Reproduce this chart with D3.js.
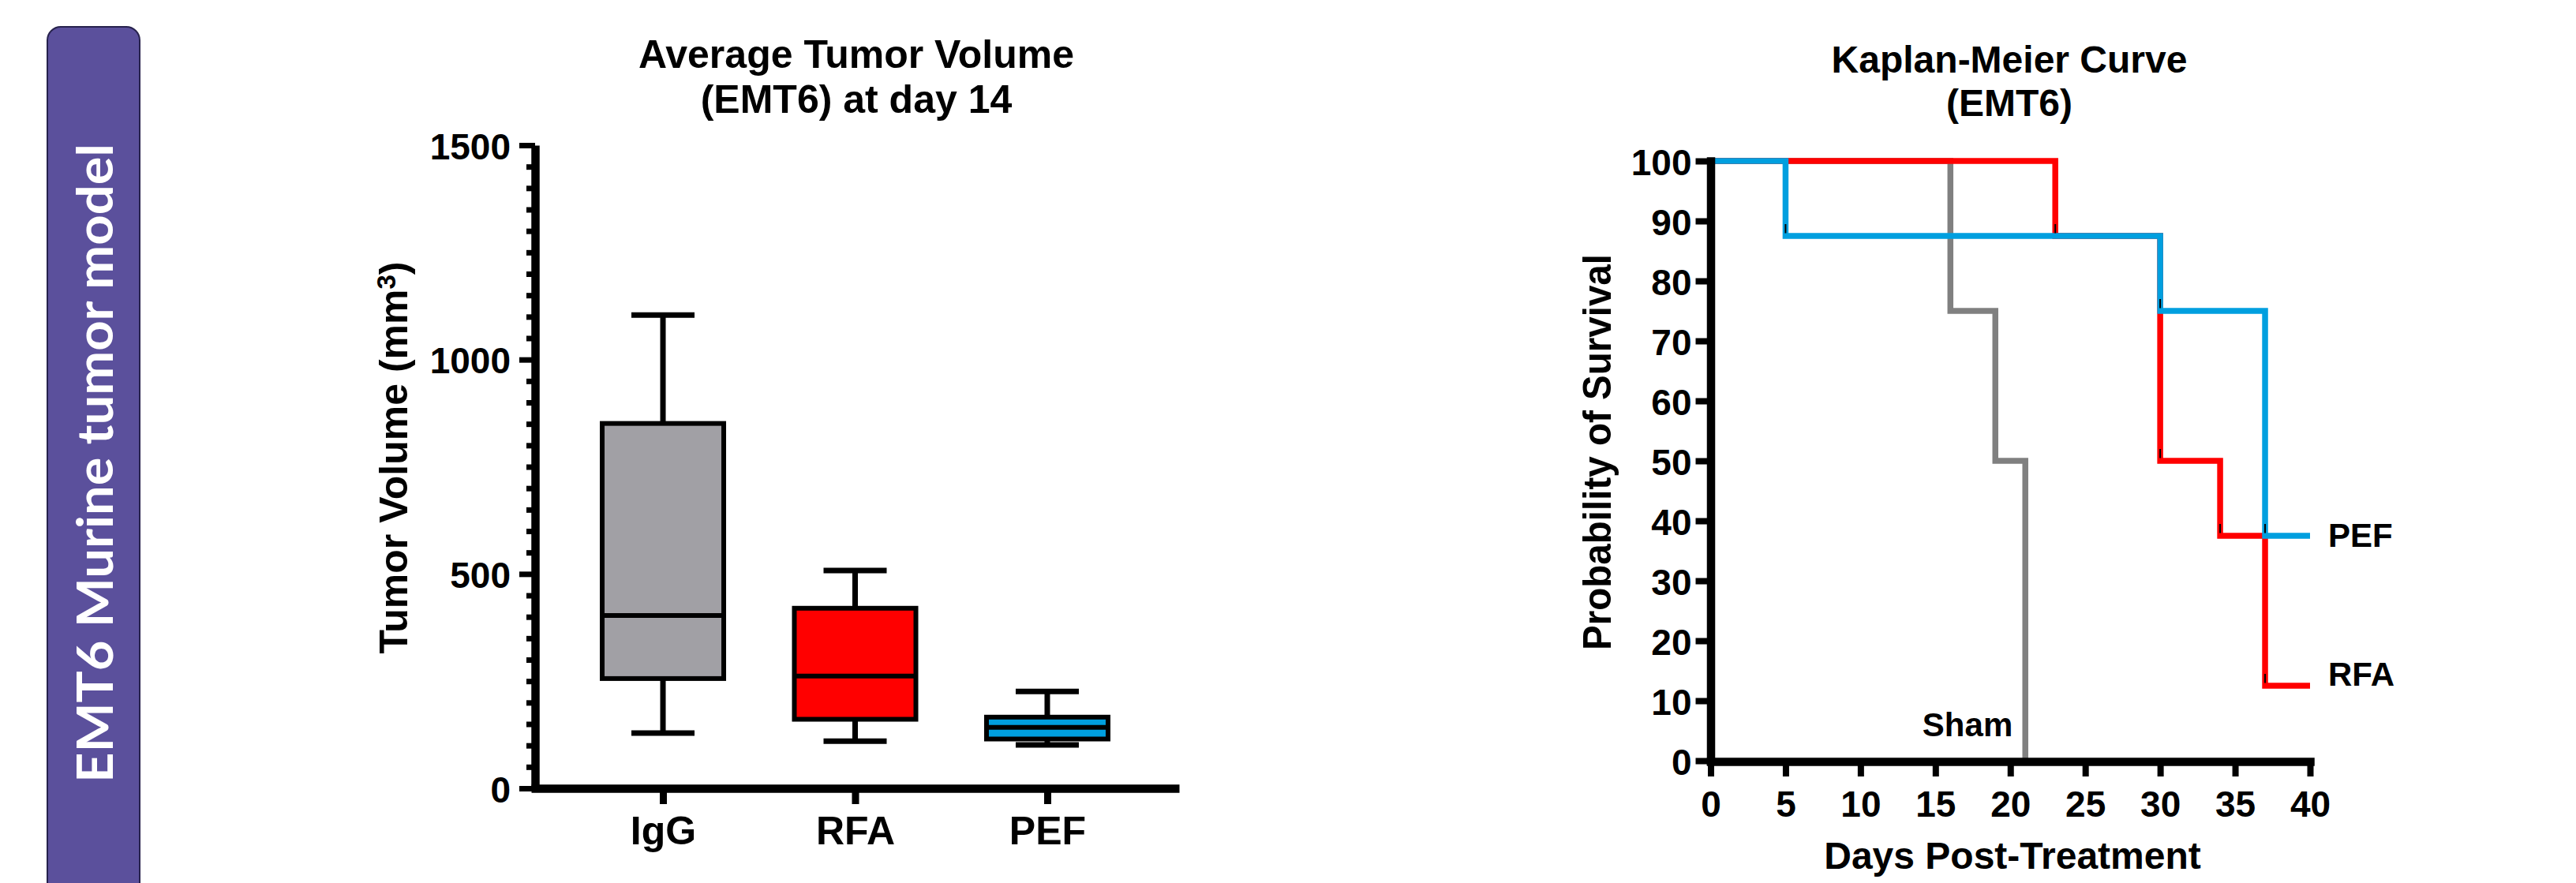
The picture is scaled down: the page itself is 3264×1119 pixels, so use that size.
<!DOCTYPE html>
<html>
<head>
<meta charset="utf-8">
<script src="https://cdn.jsdelivr.net/npm/d3@7"></script>
<style>
  body { margin: 0; background: #fff; }
  svg { display: block; }
  text { font-family: "Liberation Sans", Arial, sans-serif; font-weight: bold; fill: #000; }
</style>
</head>
<body>
<svg id="chart" width="3264" height="1119"></svg>
<script>
// box plot data (tumor volume, mm3, day 14)
const groups = ["IgG", "RFA", "PEF"];
const whiskerLow = [129, 110, 101];
const q1 = [256, 161, 115];
const median = [403, 262, 142];
const q3 = [851, 420, 166];
const whiskerHigh = [1104, 508, 226];
const volumeTicks = [0, 500, 1000, 1500];

// kaplan-meier data
const shamDays = [0, 16, 19, 21];
const shamSurv = [100, 75, 50, 0];
const rfaDays = [0, 23, 30, 34, 37, 40];
const rfaSurv = [100, 87.5, 50, 37.5, 12.5, 12.5];
const pefDays = [0, 5, 30, 37, 40];
const pefSurv = [100, 87.5, 75, 37.5, 37.5];
// step marks (day, survival)
const markDays = [5, 23, 30, 30, 34, 37, 37];
const markSurv = [87.5, 87.5, 75, 50, 37.5, 37.5, 12.5];
const dayTicks = d3.range(0, 41, 5);
const survTicks = d3.range(0, 101, 10);

const BOX_COLORS = { IgG: "#a1a0a5", RFA: "#ff0000", PEF: "#009fdf" };

const svg = d3.select("#chart");

// ---- side panel ----
svg.append("rect")
  .attr("x", 60).attr("y", 34)
  .attr("width", 117).attr("height", 1200)
  .attr("rx", 17)
  .attr("fill", "#5b509c")
  .attr("stroke", "#27224d")
  .attr("stroke-width", 2);

svg.append("text")
  .attr("transform", "translate(143,587) rotate(-90)")
  .attr("text-anchor", "middle")
  .style("font-family", "Lato, 'Open Sans', sans-serif")
  .style("font-size", "64px")
  .style("fill", "#fff")
  .attr("textLength", 810)
  .attr("lengthAdjust", "spacingAndGlyphs")
  .text("EMT6 Murine tumor model");

// ---- box plot ----
const yBox = d3.scaleLinear().domain([0, 1500]).range([999, 184]);
const xBox = d3.scalePoint().domain(groups).range([673, 1494]).padding(0.686);
const BOX_W = 154;
const CAP_W = 80;

const boxTitle = svg.append("text")
  .attr("text-anchor", "middle")
  .style("font-size", "50px");
boxTitle.append("tspan").attr("x", 1085).attr("y", 86).text("Average Tumor Volume");
boxTitle.append("tspan").attr("x", 1085).attr("y", 143).text("(EMT6) at day 14");

// minor ticks
svg.append("g")
  .attr("transform", "translate(678,0)")
  .call(d3.axisLeft(yBox)
    .tickValues(d3.range(50, 1500, 50).filter((v) => v % 500 !== 0))
    .tickSize(11)
    .tickFormat(""))
  .call((g) => g.select(".domain").remove())
  .call((g) => g.selectAll(".tick line").attr("stroke-width", 7));

const yAxisBox = svg.append("g")
  .attr("transform", "translate(678,0)")
  .call(d3.axisLeft(yBox)
    .tickValues(volumeTicks)
    .tickFormat(d3.format("d"))
    .tickSize(20)
    .tickSizeOuter(0)
    .tickPadding(11));
yAxisBox.select(".domain").attr("stroke-width", 10.5);
yAxisBox.selectAll(".tick line").attr("stroke-width", 7);
yAxisBox.selectAll(".tick text")
  .style("font-size", "46px")
  .attr("dy", "0.37em");

const xAxisBox = svg.append("g")
  .attr("transform", "translate(0,999)")
  .call(d3.axisBottom(xBox).tickSize(20).tickSizeOuter(0).tickPadding(15));
xAxisBox.select(".domain").attr("stroke-width", 10.5);
xAxisBox.selectAll(".tick line").attr("stroke-width", 9);
xAxisBox.selectAll(".tick text").style("font-size", "50px");

const yTitle = svg.append("text")
  .attr("transform", "translate(516,580) rotate(-90)")
  .attr("text-anchor", "middle")
  .style("font-size", "50px");
yTitle.append("tspan").text("Tumor Volume (mm");
yTitle.append("tspan").attr("dy", "-0.45em").style("font-size", "33px").text("3");
yTitle.append("tspan").attr("dy", "0.3em").text(")");

const boxes = svg.append("g")
  .selectAll("g")
  .data(groups.map((g, i) => ({
    name: g,
    lo: whiskerLow[i],
    q1: q1[i],
    med: median[i],
    q3: q3[i],
    hi: whiskerHigh[i],
  })))
  .join("g")
  .attr("transform", (d) => `translate(${xBox(d.name)},0)`);

// whiskers
boxes.append("line")
  .attr("y1", (d) => yBox(d.hi)).attr("y2", (d) => yBox(d.lo))
  .attr("stroke", "#000").attr("stroke-width", 7);
boxes.selectAll(".cap")
  .data((d) => [d.hi, d.lo])
  .join("line")
  .attr("class", "cap")
  .attr("x1", -CAP_W / 2).attr("x2", CAP_W / 2)
  .attr("y1", (v) => yBox(v)).attr("y2", (v) => yBox(v))
  .attr("stroke", "#000").attr("stroke-width", 7);
// box
boxes.append("rect")
  .attr("x", -BOX_W / 2)
  .attr("width", BOX_W)
  .attr("y", (d) => yBox(d.q3))
  .attr("height", (d) => yBox(d.q1) - yBox(d.q3))
  .attr("fill", (d) => BOX_COLORS[d.name])
  .attr("stroke", "#000")
  .attr("stroke-width", 6);
// median
boxes.append("line")
  .attr("x1", -BOX_W / 2).attr("x2", BOX_W / 2)
  .attr("y1", (d) => yBox(d.med)).attr("y2", (d) => yBox(d.med))
  .attr("stroke", "#000").attr("stroke-width", 6);

// ---- kaplan-meier ----
const xS = d3.scaleLinear().domain([0, 40]).range([2167.5, 2927]);
const yS = d3.scaleLinear().domain([0, 100]).range([964, 204]);

const kmTitle = svg.append("text").attr("text-anchor", "middle").style("font-size", "48px");
kmTitle.append("tspan").attr("x", 2546).attr("y", 92).text("Kaplan-Meier Curve");
kmTitle.append("tspan").attr("x", 2546).attr("y", 147).text("(EMT6)");

const step = d3.line()
  .x((d) => xS(d[0]))
  .y((d) => yS(d[1]))
  .curve(d3.curveStepAfter);

// drawing order: sham under RFA, PEF on top
const series = [
  { name: "Sham", days: shamDays, surv: shamSurv, color: "#808080" },
  { name: "RFA", days: rfaDays, surv: rfaSurv, color: "#ff0000" },
  { name: "PEF", days: pefDays, surv: pefSurv, color: "#009fdf" },
];

svg.append("g")
  .selectAll("path")
  .data(series)
  .join("path")
  .attr("d", (s) => step(s.days.map((d, i) => [d, s.surv[i]])))
  .attr("fill", "none")
  .attr("stroke", (s) => s.color)
  .attr("stroke-width", 7.5)
  .attr("stroke-linejoin", "miter");

// small black step marks
svg.append("g")
  .selectAll("line")
  .data(markDays.map((d, i) => [d, markSurv[i]]))
  .join("line")
  .attr("x1", (d) => xS(d[0])).attr("x2", (d) => xS(d[0]))
  .attr("y1", (d) => yS(d[1]) - 3.5).attr("y2", (d) => yS(d[1]) - 15)
  .attr("stroke", "#000").attr("stroke-width", 2);

const yAxisS = svg.append("g")
  .attr("transform", "translate(2167.5,0)")
  .call(d3.axisLeft(yS).tickValues(survTicks).tickSize(19).tickSizeOuter(0).tickPadding(5));
yAxisS.select(".domain").attr("stroke-width", 10.5).attr("stroke-linecap", "square");
yAxisS.selectAll(".tick line").attr("stroke-width", 8);
yAxisS.selectAll(".tick text").style("font-size", "46px").attr("dy", "0.37em");

const xAxisS = svg.append("g")
  .attr("transform", "translate(0,965)")
  .call(d3.axisBottom(xS).tickValues(dayTicks).tickSize(19).tickSizeOuter(0).tickPadding(18));
xAxisS.select(".domain").attr("stroke-width", 10.5).attr("stroke-linecap", "square");
xAxisS.selectAll(".tick line").attr("stroke-width", 8);
xAxisS.selectAll(".tick text").style("font-size", "46px");

svg.append("text")
  .attr("x", 2550).attr("y", 1101)
  .attr("text-anchor", "middle")
  .style("font-size", "48px")
  .text("Days Post-Treatment");

svg.append("text")
  .attr("transform", "translate(2041,573) rotate(-90)")
  .attr("text-anchor", "middle")
  .style("font-size", "50px")
  .attr("textLength", 502)
  .attr("lengthAdjust", "spacingAndGlyphs")
  .text("Probability of Survival");

// series labels
svg.append("text")
  .attr("x", xS(40) + 23).attr("y", yS(37.5) + 14)
  .style("font-size", "42px")
  .text("PEF");
svg.append("text")
  .attr("x", xS(40) + 23).attr("y", yS(12.5))
  .style("font-size", "42px")
  .text("RFA");
svg.append("text")
  .attr("x", xS(21) - 16).attr("y", yS(0) - 31)
  .attr("text-anchor", "end")
  .style("font-size", "42px")
  .text("Sham");
</script>
</body>
</html>
